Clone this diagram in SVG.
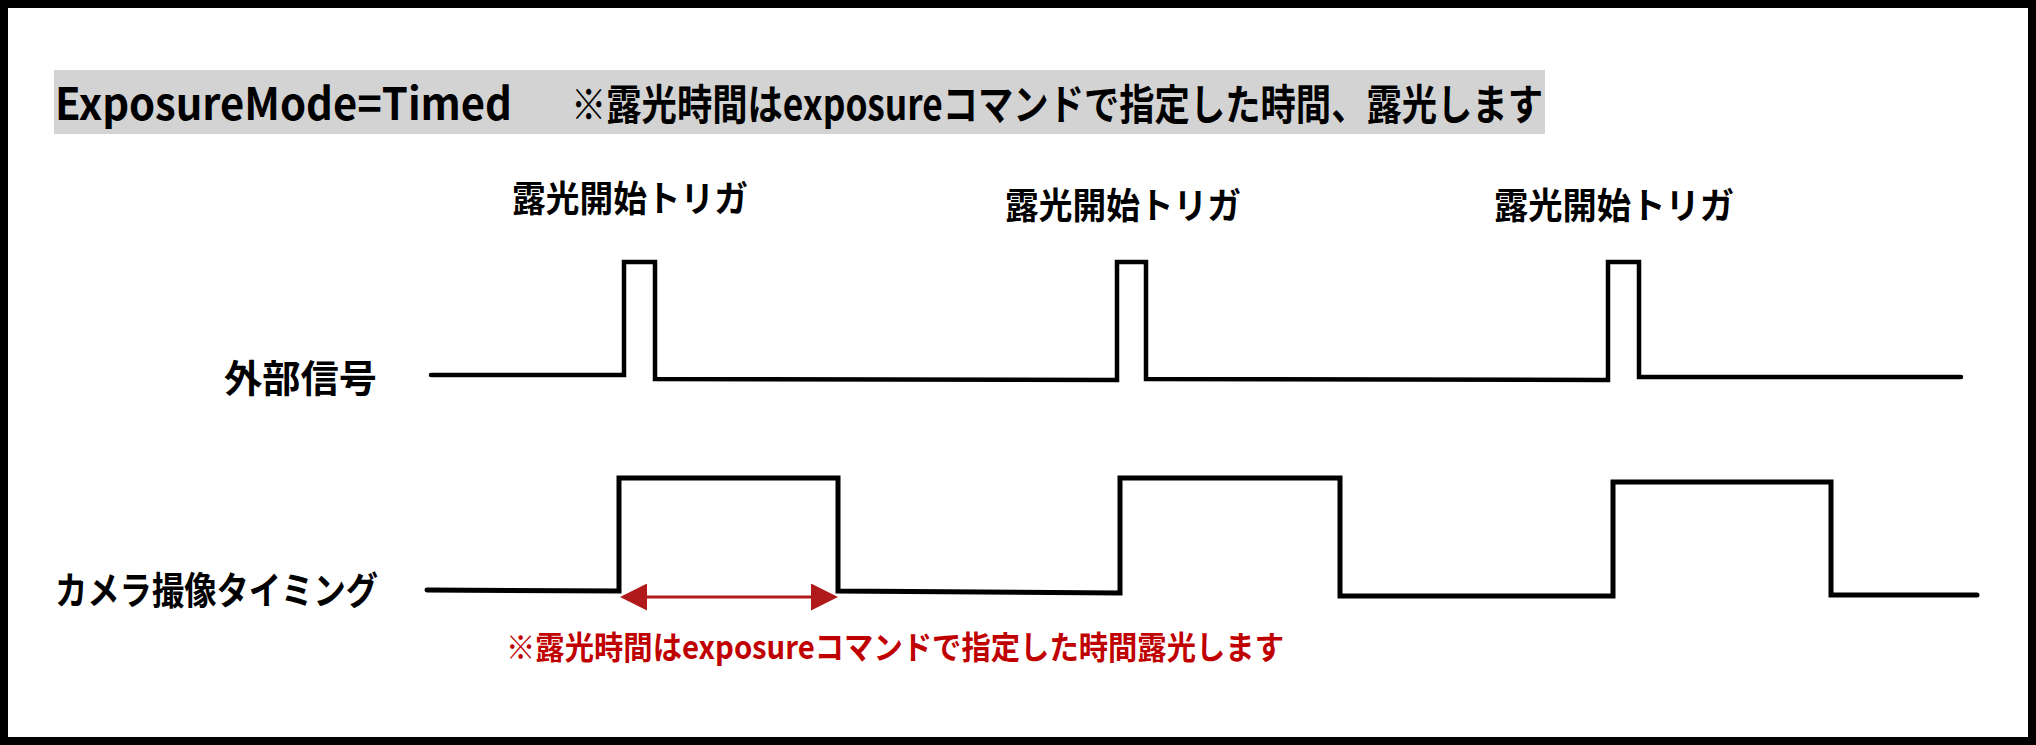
<svg xmlns="http://www.w3.org/2000/svg" width="2036" height="745" viewBox="0 0 2036 745">
  <style>
    .t { font-family: 'Noto Sans CJK JP', 'Noto Sans', sans-serif; font-weight: 700; fill: #000; }
    .red { fill: #c00000; }
    .sig { fill: none; stroke: #000; stroke-width: 4.5; stroke-linejoin: miter; stroke-linecap: round; }
    .cam { stroke-width: 5; }
  </style>
  <defs>
    <marker id="ah" viewBox="0 0 27 27" markerWidth="27" markerHeight="27" refX="7" refY="13.5" markerUnits="userSpaceOnUse" orient="auto-start-reverse">
      <path d="M0,0 L27,13.5 L0,27 Z" fill="#b01a1a"/>
    </marker>
  </defs>
  <rect x="0" y="0" width="2036" height="745" fill="#fff"/>
  <rect id="frame" x="4" y="4" width="2028" height="737" fill="none" stroke="#000" stroke-width="8"/>

  <g id="title">
    <rect x="54" y="70" width="1491" height="64" fill="#d3d3d3"/>
    <text class="t" x="55" y="120" font-size="44" textLength="457" lengthAdjust="spacingAndGlyphs">ExposureMode=Timed</text>
    <text class="t" x="571" y="120" font-size="42" textLength="972" lengthAdjust="spacingAndGlyphs">※露光時間はexposureコマンドで指定した時間、露光します</text>
  </g>

  <g id="trigger-labels">
    <text class="t" x="512" y="212" font-size="36" textLength="236" lengthAdjust="spacingAndGlyphs">露光開始トリガ</text>
    <text class="t" x="1005" y="219" font-size="36" textLength="236" lengthAdjust="spacingAndGlyphs">露光開始トリガ</text>
    <text class="t" x="1494" y="219" font-size="36" textLength="240" lengthAdjust="spacingAndGlyphs">露光開始トリガ</text>
  </g>

  <g id="external-signal">
    <text class="t" x="224" y="392" font-size="38" textLength="153" lengthAdjust="spacingAndGlyphs">外部信号</text>
    <path class="sig" d="M431,375 L624,375 L624,262 L655,262 L655,379 L1117,380 L1117,262 L1146,262 L1146,379 L1608,380 L1608,262 L1639,262 L1639,377 L1961,377"/>
  </g>

  <g id="camera-timing">
    <text class="t" x="55" y="604" font-size="38" textLength="323" lengthAdjust="spacingAndGlyphs">カメラ撮像タイミング</text>
    <path class="sig cam" d="M427,590 L619,591 L619,478 L838,478 L838,591 L1120,593 L1120,478 L1340,478 L1340,596 L1613,596 L1613,482 L1831,482 L1831,595 L1977,595"/>
  </g>

  <g id="connectors">
    <line x1="640" y1="597" x2="818" y2="597" stroke="#b01a1a" stroke-width="3" marker-start="url(#ah)" marker-end="url(#ah)"/>
  </g>

  <g id="note">
    <text class="t red" x="506" y="659" font-size="32" textLength="778" lengthAdjust="spacingAndGlyphs">※露光時間はexposureコマンドで指定した時間露光します</text>
  </g>
</svg>
